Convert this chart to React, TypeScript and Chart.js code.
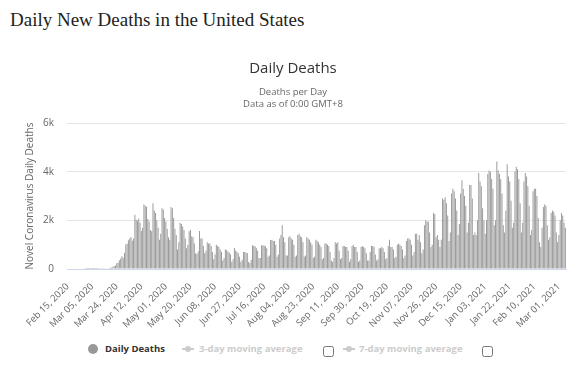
import React, { useEffect, useRef } from 'react';
import { Chart, registerables } from 'chart.js';

Chart.register(...registerables);

// First day of the series (Feb 15, 2020); one value per day.
const START_YEAR = 2020;
const START_MONTH = 1; // February (0-based)
const START_DAY = 15;

// Daily new deaths, one row per week starting on Saturday.
const DAILY_DEATHS: number[] = [
  0, 0, 0, 0, 0, 0, 0,
  0, 0, 0, 0, 0, 0, 0,
  1, 1, 5, 1, 4, 1, 2,
  3, 4, 4, 6, 8, 7, 11,
  10, 12, 23, 25, 41, 52, 54,
  88, 114, 141, 232, 260, 360, 435,
  525, 463, 667, 1005, 1040, 1177, 1253,
  1317, 1165, 1255, 2226, 2030, 1985, 2080,
  1900, 1560, 1700, 2650, 2600, 2560, 2050,
  1950, 1600, 1550, 2700, 2400, 2300, 2000,
  1700, 1200, 1450, 2500, 2450, 2100, 1950,
  1650, 1300, 1200, 2550, 2500, 2100, 1650,
  1400, 800, 1100, 1900, 1850, 1750, 1600,
  1250, 850, 1000, 1550, 1600, 1350, 1300,
  1050, 650, 620, 720, 1560, 1250, 1250,
  950, 650, 750, 1100, 1050, 1050, 950,
  700, 400, 600, 1000, 950, 900, 800,
  700, 350, 450, 800, 780, 720, 680,
  600, 300, 400, 860, 760, 700, 650,
  500, 300, 380, 700, 700, 680, 650,
  300, 250, 380, 980, 950, 930, 850,
  750, 450, 450, 970, 980, 970, 940,
  850, 500, 550, 1190, 1200, 1150, 1150,
  1000, 500, 600, 1250, 1400, 1800, 1300,
  1100, 550, 550, 1300, 1350, 1250, 1200,
  1000, 500, 550, 1400, 1450, 1350, 1300,
  1100, 500, 550, 1300, 1250, 1200, 1100,
  1000, 450, 500, 1200, 1150, 1100, 1000,
  900, 400, 450, 1050, 1050, 1000, 950,
  700, 350, 300, 450, 1100, 1050, 1100,
  750, 400, 450, 950, 950, 900, 900,
  750, 300, 400, 950, 1000, 900, 900,
  700, 300, 350, 900, 950, 900, 850,
  650, 350, 350, 700, 950, 950, 900,
  600, 350, 400, 850, 850, 900, 850,
  700, 400, 450, 950, 1200, 900, 900,
  800, 450, 500, 1000, 1050, 1000, 950,
  800, 450, 550, 1150, 1250, 1250, 1200,
  1000, 550, 700, 1450, 1450, 1200, 1400,
  1100, 650, 800, 1800, 2000, 1950, 1950,
  1500, 900, 1000, 2300, 2250, 1300, 1400,
  1200, 900, 1200, 2900, 2850, 2950, 2700,
  2200, 1150, 1500, 3100, 3300, 3200, 2900,
  2400, 1400, 1850, 3100, 3650, 3300, 3000,
  2600, 1500, 1900, 3450, 3450, 2900, 1400,
  1500, 1400, 2000, 3950, 3600, 3400, 2500,
  2000, 1450, 2000, 3900, 4050, 4000, 3700,
  3300, 1800, 2000, 4420, 4050, 3900, 3700,
  3100, 1800, 1500, 2400, 4300, 3800, 3600,
  2800, 1700, 1900, 4000, 4200, 4100, 3700,
  2700, 1500, 1900, 3600, 3950, 3800, 3400,
  2600, 1400, 1600, 3200, 3300, 3300, 3000,
  2100, 1100, 900, 1700, 2550, 2650, 2600,
  1800, 1200, 1300, 2300, 2400, 2350, 2200,
  1500, 1100, 1400, 2000, 2300, 2200, 1900,
  1700,
];

// Category labels shown on the x axis.
const TICK_LABELS: string[] = [
  'Feb 15, 2020', 'Mar 05, 2020', 'Mar 24, 2020', 'Apr 12, 2020', 'May 01, 2020',
  'May 20, 2020', 'Jun 08, 2020', 'Jun 27, 2020', 'Jul 16, 2020', 'Aug 04, 2020',
  'Aug 23, 2020', 'Sep 11, 2020', 'Sep 30, 2020', 'Oct 19, 2020', 'Nov 07, 2020',
  'Nov 26, 2020', 'Dec 15, 2020', 'Jan 03, 2021', 'Jan 22, 2021', 'Feb 10, 2021',
  'Mar 01, 2021',
];

const Y_TICKS: number[] = [0, 2000, 4000, 6000];

const MONTH_NAMES = ['Jan', 'Feb', 'Mar', 'Apr', 'May', 'Jun', 'Jul', 'Aug', 'Sep', 'Oct', 'Nov', 'Dec'];

function buildCategories(count: number): string[] {
  const out: string[] = [];
  for (let i = 0; i < count; i++) {
    const d = new Date(Date.UTC(START_YEAR, START_MONTH, START_DAY + i));
    const dd = String(d.getUTCDate()).padStart(2, '0');
    out.push(`${MONTH_NAMES[d.getUTCMonth()]} ${dd}, ${d.getUTCFullYear()}`);
  }
  return out;
}

const CATEGORIES = buildCategories(DAILY_DEATHS.length);

const FONT = "'Open Sans', 'DejaVu Sans', sans-serif";
const W = 586;
const H = 300;
const CANVAS_TOP = 40;
const PLOT_BOTTOM = 229; // in canvas coordinates

export default function App() {
  const ref = useRef<HTMLCanvasElement | null>(null);

  useEffect(() => {
    if (!ref.current) return;
    const chart = new Chart(ref.current, {
      type: 'bar',
      data: {
        labels: CATEGORIES,
        datasets: [
          {
            label: 'Daily Deaths',
            data: DAILY_DEATHS,
            backgroundColor: '#999999',
            borderWidth: 0,
            barPercentage: 0.75,
            categoryPercentage: 1,
          },
        ],
      },
      options: {
        animation: false,
        responsive: false,
        maintainAspectRatio: false,
        layout: { padding: 0 },
        plugins: {
          legend: { display: false },
          tooltip: { enabled: false },
          title: {
            display: true,
            text: 'Daily Deaths',
            color: '#333333',
            font: { family: FONT, size: 15, weight: 'normal', lineHeight: '18px' },
            padding: { top: 20, bottom: 0 },
          },
          subtitle: {
            display: true,
            text: ['Deaths per Day', 'Data as of 0:00 GMT+8'],
            color: '#666666',
            font: { family: FONT, size: 9.5, weight: 'normal', lineHeight: '12px' },
            padding: { top: 8, bottom: 13 },
          },
        },
        scales: {
          x: {
            grid: { display: false, drawTicks: false },
            border: { display: true, color: '#ccd6eb', width: 1 },
            ticks: {
              autoSkip: false,
              minRotation: 45,
              maxRotation: 45,
              padding: 12,
              color: '#666666',
              font: { family: FONT, size: 9.5 },
              callback: (_v: any, index: number) => {
                const lbl = CATEGORIES[index];
                return TICK_LABELS.includes(lbl) ? lbl : '';
              },
            },
            afterFit: (scale: any) => {
              scale.height = H - PLOT_BOTTOM;
            },
          },
          y: {
            min: Y_TICKS[0],
            max: Y_TICKS[Y_TICKS.length - 1],
            grid: { color: '#e6e6e6', drawTicks: false },
            border: { display: false },
            ticks: {
              stepSize: Y_TICKS[1] - Y_TICKS[0],
              padding: 13,
              color: '#666666',
              font: { family: FONT, size: 10 },
              callback: (v: any) => (Number(v) === 0 ? '0' : `${Number(v) / 1000}k`),
            },
            title: {
              display: true,
              text: 'Novel Coronavirus Daily Deaths',
              color: '#666666',
              font: { family: FONT, size: 10, lineHeight: '12px' },
              padding: { top: 24, bottom: 0 },
            },
            afterFit: (scale: any) => {
              scale.width = 67;
            },
          },
          yRight: {
            position: 'right',
            display: true,
            min: Y_TICKS[0],
            max: Y_TICKS[Y_TICKS.length - 1],
            grid: { display: false, drawTicks: false },
            border: { display: false },
            ticks: { display: false },
            afterFit: (scale: any) => {
              scale.width = 20;
            },
          },
        },
      },
    } as any);
    return () => chart.destroy();
  }, []);

  const legendText: React.CSSProperties = {
    position: 'absolute',
    fontFamily: FONT,
    fontSize: '9.5px',
    fontWeight: 'bold',
    lineHeight: '12px',
    top: 343,
    whiteSpace: 'nowrap',
  };

  const marker = (left: number) => (
    <div style={{ position: 'absolute', left, top: 348, width: 12, height: 2 }}>
      <div style={{ position: 'absolute', left: 0, top: 0, width: 12, height: 1.5, background: '#cccccc' }} />
      <div style={{ position: 'absolute', left: 3, top: -2.5, width: 6, height: 6, borderRadius: 3, background: '#cccccc' }} />
    </div>
  );

  const checkbox = (left: number) => (
    <input
      type="checkbox"
      readOnly
      style={{ position: 'absolute', left, top: 346, width: 11, height: 11, margin: 0 }}
    />
  );

  return (
    <div style={{ position: 'absolute', left: 0, top: 0, width: W, height: 380, background: '#ffffff', overflow: 'hidden' }}>
      <div
        style={{
          position: 'absolute',
          left: 10,
          top: 9,
          fontFamily: "'Liberation Serif', 'Times New Roman', serif",
          fontSize: '19px',
          lineHeight: '22px',
          color: '#222222',
          whiteSpace: 'nowrap',
        }}
      >
        Daily New Deaths in the United States
      </div>
      <canvas
        ref={ref}
        width={W}
        height={H}
        style={{ position: 'absolute', left: 0, top: CANVAS_TOP, width: W, height: H }}
      />
      <div style={{ position: 'absolute', left: 88, top: 344, width: 10, height: 10, borderRadius: 5, background: '#999999' }} />
      <div style={{ ...legendText, left: 105, color: '#333333' }}>Daily Deaths</div>
      {marker(182)}
      <div style={{ ...legendText, left: 199, color: '#cccccc' }}>3-day moving average</div>
      {checkbox(323)}
      {marker(343)}
      <div style={{ ...legendText, left: 359, color: '#cccccc' }}>7-day moving average</div>
      {checkbox(482)}
    </div>
  );
}
